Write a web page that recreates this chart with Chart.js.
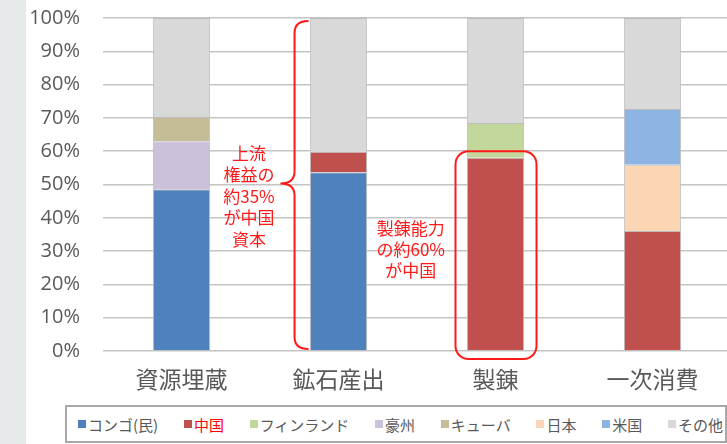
<!DOCTYPE html>
<html lang="ja">
<head>
<meta charset="utf-8">
<script src="https://cdn.jsdelivr.net/npm/chart.js@4/dist/chart.umd.min.js"></script>
<style>
  html, body { margin: 0; padding: 0; width: 727px; height: 444px; overflow: hidden; background: #e6eaea; }
  #panel { position: absolute; left: 26px; top: 0; width: 701px; height: 444px; background: #fff; }
  #wrap { position: absolute; left: 26px; top: -17px; width: 705px; height: 417px; }
  #legend {
    position: absolute; left: 65px; top: 405px; width: 645px; height: 34px;
    border: 2px solid #a8a8a8;
    display: flex; align-items: center; justify-content: space-between;
    padding: 0 2px 0 11px; box-sizing: content-box;
    font-family: "Noto Sans CJK JP", sans-serif; font-size: 15px; color: #595959;
  }
  #legend span.item { display: flex; align-items: center; white-space: nowrap; }
  #legend span.box { display: inline-block; width: 8px; height: 8px; margin-right: 2px; }
</style>
</head>
<body>
<div id="panel"></div>
<div id="wrap"><canvas id="chart"></canvas></div>
<div id="legend"></div>
<script>
// categories and series (share of total, %)
const categories = ['資源埋蔵', '鉱石産出', '製錬', '一次消費'];
const congo     = [48.6, 53.7, null, null];
const china     = [null, 6.1, 58.0, 36.0];
const finland   = [null, null, 10.5, null];
const australia = [14.4, null, null, null];
const cuba      = [7.3, null, null, null];
const japan     = [null, null, null, 19.9];
const usa       = [null, null, null, 16.8];
const other     = [29.7, 40.2, 31.5, 27.3];

const seriesNames  = ['コンゴ(民)', '中国', 'フィンランド', '豪州', 'キューバ', '日本', '米国', 'その他'];
const seriesData   = [congo, china, finland, australia, cuba, japan, usa, other];
const seriesColors = ['#4f81bd', '#c0504d', '#c3d69b', '#ccc1da', '#c4bd97', '#fcd5b5', '#8eb4e3', '#d9d9d9'];

const red = '#ff1a1a';

// --- annotations: brace + notes + rounded box ---
const notes = {
    id: 'notes',
    afterDatasetsDraw(chart) {
        const { ctx, scales: { x, y } } = chart;
        ctx.save();
        ctx.strokeStyle = red;
        ctx.lineWidth = 2;

        // brace spanning the whole axis between bar 1 and bar 2
        const xb = x.getPixelForValue(0.72);
        const tip = x.getPixelForValue(0.63);
        const top = y.getPixelForValue(100) + 3;
        const bot = y.getPixelForValue(0) - 2;
        const mid = y.getPixelForValue(50) - 1;
        const r = 12;
        ctx.beginPath();
        ctx.moveTo(xb + 14, top);
        ctx.quadraticCurveTo(xb, top, xb, top + r);
        ctx.lineTo(xb, mid - r);
        ctx.quadraticCurveTo(xb, mid, tip, mid);
        ctx.quadraticCurveTo(xb, mid, xb, mid + r);
        ctx.lineTo(xb, bot - r);
        ctx.quadraticCurveTo(xb, bot, xb + 14, bot);
        ctx.stroke();

        // rounded box around 製錬 China segment
        const bx0 = x.getPixelForValue(2) - 40;
        const bx1 = x.getPixelForValue(2) + 41;
        const by0 = y.getPixelForValue(60);
        const by1 = y.getPixelForValue(0) + 8;
        ctx.beginPath();
        ctx.roundRect(bx0, by0, bx1 - bx0, by1 - by0, 13);
        ctx.stroke();

        // text notes (positions follow the y scale)
        ctx.fillStyle = red;
        ctx.font = '17px "Noto Sans CJK JP", sans-serif';
        ctx.textAlign = 'center';
        ctx.textBaseline = 'middle';
        const t1 = ['上流', '権益の', '約35%', 'が中国', '資本'];
        const t1x = x.getPixelForValue(0.43);
        const t1y = y.getPixelForValue(59.4);
        t1.forEach((s, i) => ctx.fillText(s, t1x, t1y + i * 21.5));
        const t2 = ['製錬能力', 'の約60%', 'が中国'];
        const t2x = x.getPixelForValue(1.46);
        const t2y = y.getPixelForValue(36.9);
        t2.forEach((s, i) => ctx.fillText(s, t2x, t2y + i * 21));
        ctx.restore();
    }
};

new Chart(document.getElementById('chart'), {
    type: 'bar',
    data: {
        labels: categories,
        datasets: seriesNames.map((name, i) => ({
            label: name,
            data: seriesData[i],
            backgroundColor: seriesColors[i],
            borderColor: '#bdbdbd',
            borderWidth: 1,
            barPercentage: 0.365,
            categoryPercentage: 1
        }))
    },
    options: {
        responsive: true,
        maintainAspectRatio: false,
        animation: false,
        layout: { padding: { top: 1, left: 0, right: 0, bottom: 0 } },
        plugins: {
            legend: { display: false },
            tooltip: { enabled: false }
        },
        scales: {
            x: {
                stacked: true,
                grid: { display: false },
                border: { display: false },
                ticks: {
                    color: '#595959',
                    font: { family: '"Noto Sans CJK JP", sans-serif', size: 23 },
                    padding: 6
                },
                afterFit: s => { s.height = 49; }
            },
            y: {
                stacked: true,
                min: 0,
                max: 100,
                border: { display: false },
                grid: { color: '#c4c4c4', lineWidth: 1.5, drawTicks: false },
                ticks: {
                    stepSize: 10,
                    color: '#595959',
                    font: { family: '"Open Sans", sans-serif', size: 20 },
                    padding: 23,
                    callback: v => v + '%'
                },
                afterFit: s => { s.width = 77; }
            }
        }
    },
    plugins: [notes]
});

// legend as plain HTML built from the same arrays
const legend = document.getElementById('legend');
seriesNames.forEach((name, i) => {
    const item = document.createElement('span');
    item.className = 'item';
    const box = document.createElement('span');
    box.className = 'box';
    box.style.background = seriesColors[i];
    const txt = document.createElement('span');
    txt.textContent = name;
    if (name === '中国') txt.style.color = '#ff0000';
    item.appendChild(box);
    item.appendChild(txt);
    legend.appendChild(item);
});
</script>
</body>
</html>
